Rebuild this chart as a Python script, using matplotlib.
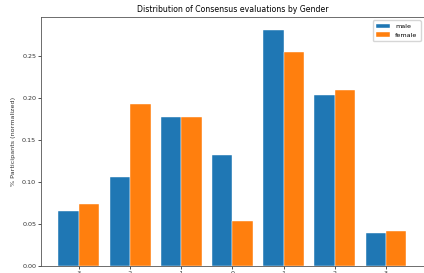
import numpy as np
import matplotlib.pyplot as plt

scores = [-3, -2, -1, 0, 1, 2, 3]
male = [0.0656, 0.1052, 0.1767, 0.1316, 0.2810, 0.2029, 0.0392]
female = [0.0740, 0.1929, 0.1767, 0.0532, 0.2540, 0.2092, 0.0408]

x = np.array(scores)
w = 0.4

fig = plt.figure(figsize=(4.24, 2.73), dpi=100)
ax = fig.add_axes([0.0967, 0.0267, 0.903, 0.91])

ax.bar(x - w / 2, male, width=w, color='#1f77b4', edgecolor='white', linewidth=0.3, label='male')
ax.bar(x + w / 2, female, width=w, color='#ff7f0e', edgecolor='white', linewidth=0.3, label='female')

ax.set_xticks(x)
ax.set_xticklabels([str(s) for s in scores])
ax.set_ylim(0, 0.2957)
ax.set_yticks([0.0, 0.05, 0.10, 0.15, 0.20, 0.25])
ax.tick_params(labelsize=4.6, length=2, width=0.6, pad=1.5, colors='#333333')
for s in ax.spines.values():
    s.set_linewidth(0.6)
    s.set_color('#555555')
ax.set_ylabel('% Participants (normalized)', fontsize=4.6, labelpad=4, color='#333333')
ax.set_title('Distribution of Consensus evaluations by Gender', fontsize=5.6, pad=3.5)
ax.legend(fontsize=4.6, loc='upper right', handlelength=2.2, borderpad=0.5)

fig.savefig('out.png', dpi=100)
